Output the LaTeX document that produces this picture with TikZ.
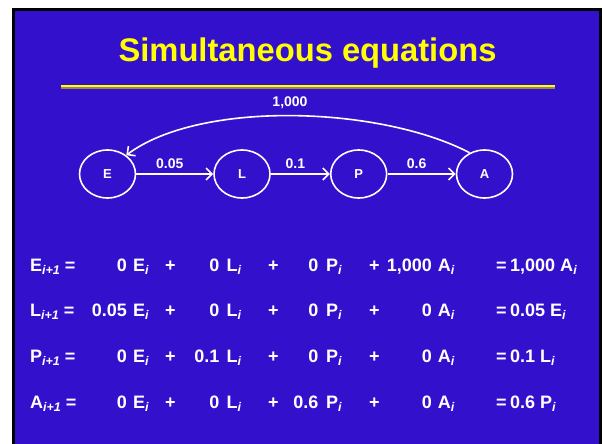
\documentclass[tikz,border=0pt]{standalone}
\usepackage{fontspec}
\setmainfont{Liberation Sans}
\usetikzlibrary{shapes.geometric, arrows.meta, positioning}
\definecolor{cSlide}{RGB}{51,17,204}
\definecolor{cTitle}{RGB}{255,255,0}
\definecolor{cShade}{RGB}{150,132,96}
\newcommand{\lowidx}[1]{\raisebox{-0.35ex}{\fontsize{12.5}{13}\selectfont\itshape #1}}

\begin{document}
\begin{tikzpicture}[x=1pt, y=-1pt,
            st/.style={ellipse, draw=white, line width=1.6pt, minimum width=56pt, minimum height=48pt,
                       inner sep=0pt, text=white, font=\fontsize{13}{15}\selectfont\bfseries},
            lnk/.style={draw=white, line width=1.6pt, -{Straight Barb[length=6pt, width=12pt]}},
            rate/.style={text=white, inner sep=1pt, font=\fontsize{14}{16}\selectfont\bfseries},
            eq/.style={anchor=base west, inner sep=0pt, text=white, font=\fontsize{18}{21}\selectfont\bfseries},
            co/.style={eq, anchor=base east}]
            \useasboundingbox (0,0) rectangle (602,444);
            \fill[black] (12,8) rectangle (602,444);
            \fill[cSlide] (15,11) rectangle (599,444);
            \node[anchor=base, inner sep=0pt, text=cTitle, font=\fontsize{32.7}{38}\selectfont\bfseries]
                (title) at (307.5,62) {Simultaneous equations};
            \draw[cShade, line width=2pt] (61,87.6) -- (555,87.6);
            \draw[cTitle, line width=2pt] (61,85.8) -- (555,85.8);
            \foreach \n/\x in {E/107.5, L/242, P/358.7, A/484.5}{
                \node[st] (\n) at (\x,174) {\n};}
            \draw[lnk] (E) -- node[rate, above=4pt, xshift=-5pt] (rEL) {0.05} (L);
            \draw[lnk] (L) -- node[rate, above=4pt, xshift=-5pt] (rLP) {0.1} (P);
            \draw[lnk] (P) -- node[rate, above=4pt, xshift=-5pt] (rPA) {0.6} (A);
            \draw[lnk] (A.125) .. controls (380,106) and (200,100) .. (E.45);
            \node[rate] (rAE) at (290,103) {1,000};
            \foreach \row/\y/\ce/\cl/\cp/\ca/\res in {E/271/0/0/0/{1,000}/{1,000 A\lowidx{i}},
                                                     L/316/0.05/0/0/0/{0.05 E\lowidx{i}},
                                                     P/362/0/0.1/0/0/{0.1 L\lowidx{i}},
                                                     A/408/0/0/0.6/0/{0.6 P\lowidx{i}}}{
                \node[eq] (lhs\row) at (30,\y) {\row\lowidx{i+1} =};
                \node[co] (ce\row) at (127,\y) {\ce};
                \node[eq] (ve\row) at (133,\y) {E\lowidx{i}};
                \node[eq] (pa\row) at (165,\y) {+};
                \node[co] (cl\row) at (219.5,\y) {\cl};
                \node[eq] (vl\row) at (226.5,\y) {L\lowidx{i}};
                \node[eq] (pb\row) at (268,\y) {+};
                \node[co] (cp\row) at (318.5,\y) {\cp};
                \node[eq] (vp\row) at (326,\y) {P\lowidx{i}};
                \node[eq] (pc\row) at (369,\y) {+};
                \node[co] (ca\row) at (432,\y) {\ca};
                \node[eq] (va\row) at (437.6,\y) {A\lowidx{i}};
                \node[eq] (is\row) at (496,\y) {=};
                \node[eq] (rs\row) at (510,\y) {\res};}
        \end{tikzpicture}
\end{document}
